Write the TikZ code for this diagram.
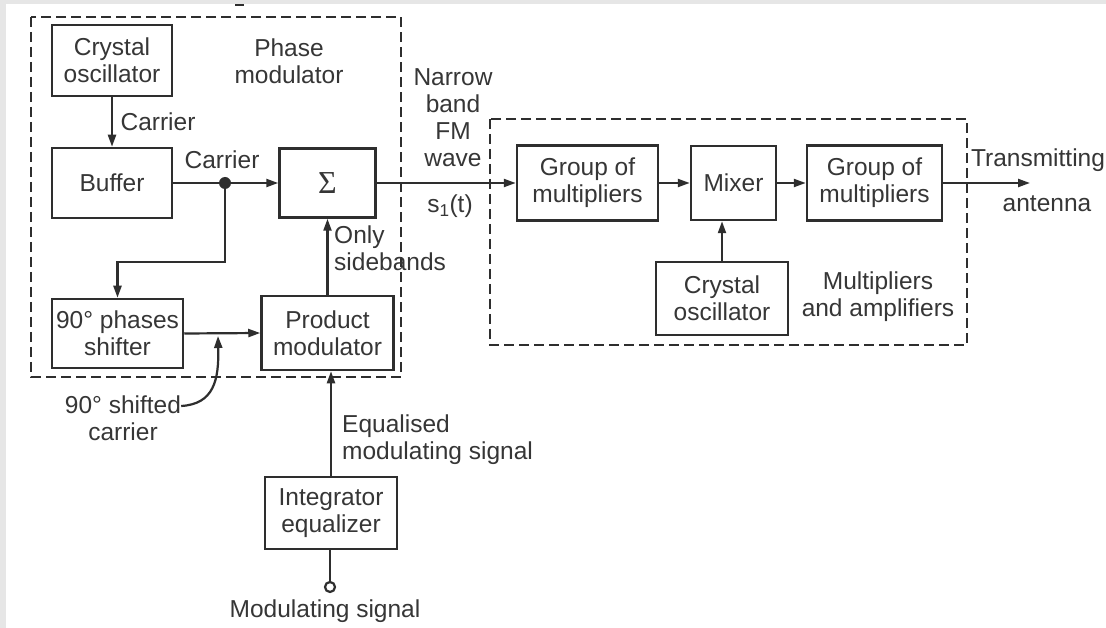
\documentclass[tikz,border=0pt]{standalone}
\usepackage{fontspec}
\setmainfont{Liberation Sans}
\newfontfamily\sigmafont{Liberation Serif}
\usetikzlibrary{arrows.meta}
\definecolor{ink}{HTML}{2E2E2E}
\definecolor{txt}{HTML}{363636}
\definecolor{edge}{HTML}{E6E6E6}

\begin{document}
\begin{tikzpicture}[x=1pt,y=-1pt,
  every node/.style={font=\fontsize{24.5}{27}\selectfont, text=txt, inner sep=0pt, align=center},
  blk/.style={draw=ink, line width=2.5pt, minimum width=#1},
  ln/.style={draw=ink, line width=2.2pt},
  arr/.style={ln, -{Triangle[length=12pt,width=8pt]}},
  dbox/.style={draw=ink, line width=2.2pt, dash pattern=on 10pt off 5pt},
  jdot/.style={circle, fill=ink, minimum size=12pt},
  port/.style={circle, draw=ink, line width=2.2pt, fill=white, minimum size=10pt}]

% page with its grey edge
\useasboundingbox (0,0) rectangle (1106,628);
\fill[edge] (0,0) rectangle (1106,628);
\fill[white] (6,4) rectangle (1106,628);
\draw[ink, line width=2pt] (235,5) -- (244,5);

% dashed groupings
\draw[dbox] (31,17) rectangle (401,377);
\draw[dbox] (490,119) rectangle (967,345);

% phase modulator blocks
\node[blk=120pt, minimum height=71pt] (xo)  at (112,60.5)  {Crystal\\oscillator};
\node[blk=120pt, minimum height=70pt] (buf) at (112,183)   {Buffer};
\node[blk=96pt,  minimum height=69pt] (sum) at (327.5,183) {\sigmafont\fontsize{32}{34}\selectfont Σ};
\node[blk=131pt, minimum height=69pt] (ps)  at (117.5,333.5) {90° phases\\shifter};
\node[blk=132pt, minimum height=74pt] (pm)  at (327.5,333) {Product\\modulator};
\node[blk=132pt, minimum height=72pt] (ie)  at (331,513)   {Integrator\\equalizer};

% multiplier chain blocks
\node[blk=141pt, minimum height=75pt] (g1)  at (587.5,183) {Group of\\multipliers};
\node[blk=85pt,  minimum height=74pt] (mx)  at (733.5,183) {Mixer};
\node[blk=135pt, minimum height=75pt] (g2)  at (874.5,183) {Group of\\multipliers};
\node[blk=132pt, minimum height=73pt] (xo2) at (722,298.5) {Crystal\\oscillator};

% labels
\node (lpm)  at (289,61)  {Phase\\modulator};
\node (lc1)  at (158,122) {Carrier};
\node (lc2)  at (222,160) {Carrier};
\node[anchor=west, align=left] (lsb) at (334,248) {Only\\sidebands};
\node (lnb)  at (453,118) {Narrow\\band\\FM\\wave};
\node (ls1)  at (450,206) {s\textsubscript{1}(t)};
\node (lsh)  at (123,418) {90° shifted\\carrier};
\node[anchor=west, align=left] (leq) at (342,440) {Equalised\\modulating signal};
\node (lmod) at (325,611) {Modulating signal};
\node (ltx)  at (1038,160) {Transmitting};
\node (lant) at (1047,204) {antenna};
\node (lma)  at (878,297) {Multipliers\\and amplifiers};

% junction, input port and free ends
\node[jdot] (j) at (225,183) {};
\node[port] (in) at (330,587) {};
\coordinate (tap) at (218,336);
\coordinate (ant) at (1030,183);

% connectors
\draw[arr] (xo.south) -- (buf.north);
\draw[ln]  (buf.east) -- (j);
\draw[arr] (j) -- (sum.west);
\draw[arr] (j.center) -- ++(0,79) -| (ps.north);
\draw[arr] (ps.east) -- (pm.west);
\draw[arr] ([yshift=12pt]lsh.east) .. controls (214,404) and (219,380) .. (tap);
\draw[arr] (pm.north) -- (sum.south);
\draw[arr] (ie.north) -- (ie.north |- pm.south);
\draw[ln]  (in) -- (in |- ie.south);
\draw[arr] (sum.east) -- (g1.west);
\draw[arr] (g1.east) -- (mx.west);
\draw[arr] (mx.east) -- (g2.west);
\draw[arr] (xo2.north) -- (xo2.north |- mx.south);
\draw[arr] (g2.east) -- (ant);
\end{tikzpicture}
\end{document}
